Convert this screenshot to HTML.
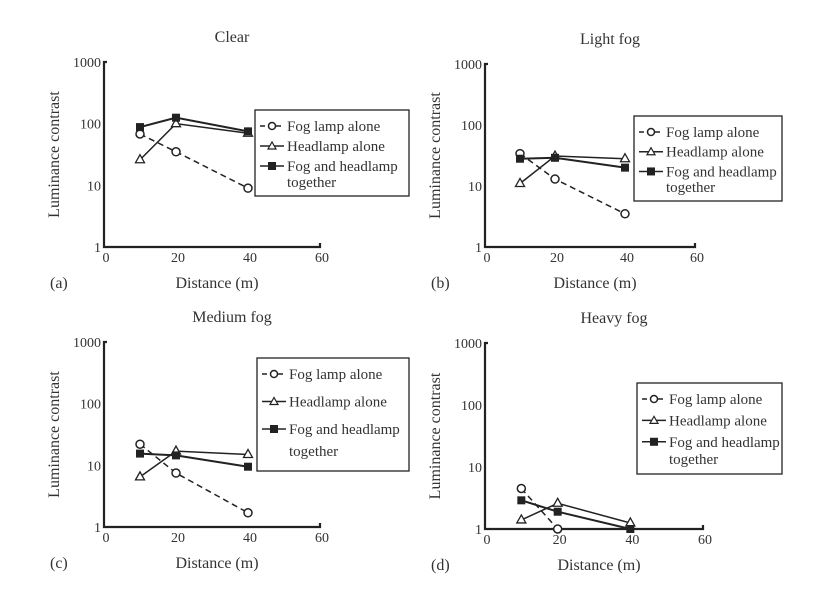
<!DOCTYPE html>
<html><head><meta charset="utf-8"><style>
body{margin:0;background:#fff}
svg text{font-family:"Liberation Serif",serif;fill:#333}
</style></head><body>
<svg id="c" width="818" height="589" viewBox="0 0 818 589"></svg>
<script>
const xTicks=[0,20,40,60];
const yTicks=[1,10,100,1000];
const yTickLabels=["1","10","100","1000"];
const distances=[10,20,40];
const seriesNames=["Fog lamp alone","Headlamp alone","Fog and headlamp together"];
const clearFog=[68,35,9], clearHead=[26,100,70], clearBoth=[88,125,75];
const lightFog=[34,13,3.5], lightHead=[11,31,28], lightBoth=[28,29,20];
const mediumFog=[22,7.5,1.7], mediumHead=[6.5,17,15], mediumBoth=[15.5,14.5,9.5];
const heavyFog=[4.5,1,null], heavyHead=[1.4,2.6,1.25], heavyBoth=[2.9,1.9,1.0];
const titles=["Clear","Light fog","Medium fog","Heavy fog"];
const tags=["(a)","(b)","(c)","(d)"];

const svg=document.getElementById('c');
const NS="http://www.w3.org/2000/svg";
function mk(t,a,p){const e=document.createElementNS(NS,t);for(const k in a)e.setAttribute(k,a[k]);(p||svg).appendChild(e);return e;}

const panels=[
 {ax:104,top:62,bot:247,x60:320,lg:[255,110,154,86],data:[clearFog,clearHead,clearBoth]},
 {ax:485,top:64,bot:247,x60:695,lg:[634,116,148,85],data:[lightFog,lightHead,lightBoth]},
 {ax:104,top:342,bot:527,x60:320,lg:[257,358,152,113],data:[mediumFog,mediumHead,mediumBoth]},
 {ax:485,top:343,bot:529,x60:703,lg:[637,383,145,91],data:[heavyFog,heavyHead,heavyBoth]}
];
panels.forEach((p,i)=>{
 const g=mk('g',{});
 
 
 const X=v=>p.ax+(v/60)*(p.x60-p.ax);
 const Y=v=>p.bot-(Math.log10(v)/3)*(p.bot-p.top);
 const cx=(p.ax+p.x60)/2;
 const t=mk('text',{x:cx+20,y:p.top-20,'font-size':16,'text-anchor':'middle'},g);t.textContent=titles[i];
 
 const ax=mk('path',{d:`M${p.ax+3},${p.top}H${p.ax}V${p.bot}H${p.x60}V${p.bot-4}`,stroke:'#222','stroke-width':2.2,fill:'none'},g);
 
 yTicks.forEach((v,j)=>{const tt=mk('text',{x:p.ax-3,y:Y(v)+5,'font-size':14,'text-anchor':'end'},g);tt.textContent=yTickLabels[j];
  });
 xTicks.forEach(v=>{const tt=mk('text',{x:X(v)+2,y:p.bot+15,'font-size':14,'text-anchor':'middle'},g);tt.textContent=v;
  });
 const yl=mk('text',{x:0,y:0,'font-size':16,'text-anchor':'middle',transform:`translate(${p.ax-45},${(p.top+p.bot)/2}) rotate(-90)`},g);yl.textContent="Luminance contrast";
 
 const xl=mk('text',{x:cx+5,y:p.bot+41,'font-size':16,'text-anchor':'middle'},g);xl.textContent="Distance (m)";
 
 const tg=mk('text',{x:p.ax-54,y:p.bot+41,'font-size':16},g);tg.textContent=tags[i];
 
 p.data.forEach((vals,s)=>{
  const pts=[];vals.forEach((v,k)=>{if(v!=null)pts.push([X(distances[k]),Y(v)]);});
  const ln=mk('polyline',{points:pts.map(q=>q.join(',')).join(' '),fill:'none',stroke:'#222','stroke-width':s==2?2:1.5,'stroke-dasharray':s==0?'6,4':'none'},g);
  
  pts.forEach(q=>{let m;
   if(s==0)m=mk('circle',{cx:q[0],cy:q[1],r:4,fill:'#fff',stroke:'#222','stroke-width':1.5},g);
   else if(s==1)m=mk('polygon',{points:`${q[0]},${q[1]-5} ${q[0]-4.5},${q[1]+3} ${q[0]+4.5},${q[1]+3}`,fill:'#fff',stroke:'#222','stroke-width':1.3},g);
   else m=mk('rect',{x:q[0]-4,y:q[1]-4,width:8,height:8,fill:'#222'},g);
   });
 });
 const [lx,ly,lw,lh]=p.lg;
 const lg=mk('g',{},g);
 mk('rect',{x:lx,y:ly,width:lw,height:lh,fill:'#fff',stroke:'#222','stroke-width':1.3},lg);
 const step=(lh-14)/3.6;
 seriesNames.forEach((n,s)=>{
  const yy=ly+16+s*step;
  const e=mk('g',{},lg);
  mk('line',{x1:lx+5,x2:lx+29,y1:yy,y2:yy,stroke:'#222','stroke-width':1.5,'stroke-dasharray':s==0?'5,3':'none'},e);
  const q=[lx+17,yy];
  if(s==0)mk('circle',{cx:q[0],cy:q[1],r:3.5,fill:'#fff',stroke:'#222','stroke-width':1.5},e);
  else if(s==1)mk('polygon',{points:`${q[0]},${q[1]-4} ${q[0]-4},${q[1]+3} ${q[0]+4},${q[1]+3}`,fill:'#fff',stroke:'#222','stroke-width':1.2},e);
  else mk('rect',{x:q[0]-4,y:q[1]-4,width:8,height:8,fill:'#222'},e);
  const tx=mk('text',{x:lx+32,y:yy+5,'font-size':15},e);
  if(s==2){tx.textContent="Fog and headlamp";const t2=mk('text',{x:lx+32,y:yy+5+step*0.8,'font-size':15},e);t2.textContent="together";}
  else tx.textContent=n;
 });
});
</script>
</body></html>
